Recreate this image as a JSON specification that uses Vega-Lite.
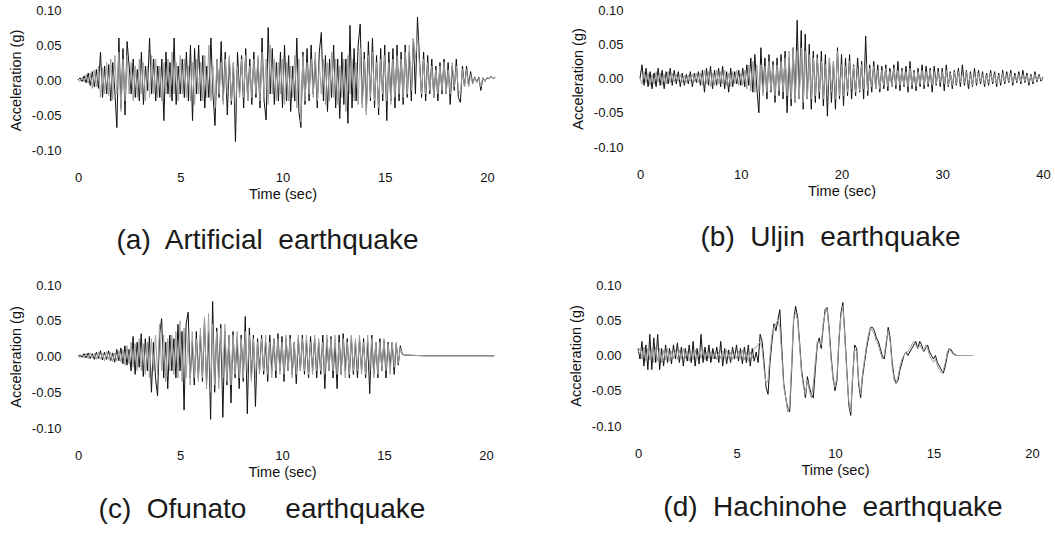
{
"$schema":"https://vega.github.io/schema/vega-lite/v6.json",
"background":"white",
"padding":{"left":8,"top":4,"right":0,"bottom":0},
"config":{"view":{"stroke":null},"font":"Liberation Sans",
"axis":{"domain":false,"ticks":false,"grid":false,"labelFont":"Liberation Sans","titleFont":"Liberation Sans","labelFontSize":13,"titleFontSize":14.5,"titleFontWeight":"normal","labelColor":"#111","titleColor":"#111"},
"axisY":{"labelPadding":17,"titlePadding":8},
"axisX":{"labelPadding":21,"titlePadding":3},
"title":{"font":"Liberation Sans","fontSize":28,"fontWeight":"normal","color":"#1a1a1a","orient":"bottom","offset":26}},
"vconcat":[{"hconcat":[
{"width":409,"height":140,"data":{"name":"a"},
"title":{"text":"(a)\u00a0 Artificial\u00a0 earthquake","dx":-15},
"encoding":{"x":{"field":"t","type":"quantitative","title":"Time (sec)","scale":{"domain":[0,20],"nice":false},"axis":{"values":[0,5,10,15,20],"labelFlush":false}}},
"layer":[
{"mark":{"type":"line","color":"#111","strokeWidth":1},"encoding":{"y":{"field":"k","type":"quantitative","title":"Acceleration (g)","scale":{"domain":[-0.1,0.1],"nice":false},"axis":{"values":[-0.1,-0.05,0,0.05,0.1],"labelExpr":"replace(format(datum.value,'.2f'),'\u2212','-')"}}}},
{"mark":{"type":"line","color":"#a0a0a0","strokeWidth":1},"encoding":{"y":{"field":"g","type":"quantitative","title":"Acceleration (g)","scale":{"domain":[-0.1,0.1],"nice":false},"axis":{"values":[-0.1,-0.05,0,0.05,0.1],"labelExpr":"replace(format(datum.value,'.2f'),'\u2212','-')"}}}}]},
{"width":403,"height":137,"data":{"name":"b"},
"title":{"text":"(b)\u00a0 Uljin\u00a0 earthquake","dx":-11},
"encoding":{"x":{"field":"t","type":"quantitative","title":"Time (sec)","scale":{"domain":[0,40],"nice":false},"axis":{"values":[0,10,20,30,40],"labelFlush":false}}},
"layer":[
{"mark":{"type":"line","color":"#111","strokeWidth":1},"encoding":{"y":{"field":"k","type":"quantitative","title":"Acceleration (g)","scale":{"domain":[-0.1,0.1],"nice":false},"axis":{"values":[-0.1,-0.05,0,0.05,0.1],"labelExpr":"replace(format(datum.value,'.2f'),'\u2212','-')"}}}},
{"mark":{"type":"line","color":"#a0a0a0","strokeWidth":1},"encoding":{"y":{"field":"g","type":"quantitative","title":"Acceleration (g)","scale":{"domain":[-0.1,0.1],"nice":false},"axis":{"values":[-0.1,-0.05,0,0.05,0.1],"labelExpr":"replace(format(datum.value,'.2f'),'\u2212','-')"}}}}]}
],"spacing":72},
{"hconcat":[
{"width":408,"height":143,"data":{"name":"c"},
"title":{"text":"(c)\u00a0 Ofunato\u00a0\u00a0\u00a0\u00a0 earthquake","dx":-20,"offset":17},
"encoding":{"x":{"field":"t","type":"quantitative","title":"Time (sec)","scale":{"domain":[0,20],"nice":false},"axis":{"values":[0,5,10,15,20],"labelFlush":false}}},
"layer":[
{"mark":{"type":"line","color":"#111","strokeWidth":1},"encoding":{"y":{"field":"k","type":"quantitative","title":"Acceleration (g)","scale":{"domain":[-0.1,0.1],"nice":false},"axis":{"values":[-0.1,-0.05,0,0.05,0.1],"labelExpr":"replace(format(datum.value,'.2f'),'\u2212','-')"}}}},
{"mark":{"type":"line","color":"#a0a0a0","strokeWidth":1},"encoding":{"y":{"field":"g","type":"quantitative","title":"Acceleration (g)","scale":{"domain":[-0.1,0.1],"nice":false},"axis":{"values":[-0.1,-0.05,0,0.05,0.1],"labelExpr":"replace(format(datum.value,'.2f'),'\u2212','-')"}}}}]},
{"width":394,"height":141,"data":{"name":"d"},
"title":{"text":"(d)\u00a0 Hachinohe\u00a0 earthquake","dx":-2,"offset":17},
"encoding":{"x":{"field":"t","type":"quantitative","title":"Time (sec)","scale":{"domain":[0,20],"nice":false},"axis":{"values":[0,5,10,15,20],"labelFlush":false}}},
"layer":[
{"mark":{"type":"line","color":"#111","strokeWidth":1},"encoding":{"y":{"field":"k","type":"quantitative","title":"Acceleration (g)","scale":{"domain":[-0.1,0.1],"nice":false},"axis":{"values":[-0.1,-0.05,0,0.05,0.1],"labelExpr":"replace(format(datum.value,'.2f'),'\u2212','-')"}}}},
{"mark":{"type":"line","color":"#a0a0a0","strokeWidth":1},"encoding":{"y":{"field":"g","type":"quantitative","title":"Acceleration (g)","scale":{"domain":[-0.1,0.1],"nice":false},"axis":{"values":[-0.1,-0.05,0,0.05,0.1],"labelExpr":"replace(format(datum.value,'.2f'),'\u2212','-')"}}}}]}
],"spacing":71}
],"spacing":24,
"datasets":{
"a":[
{"t":0,"k":0,"g":0},{"t":0.1,"k":0.003,"g":-0.002},{"t":0.2,"k":-0.002,"g":0.004},{"t":0.3,"k":0.006,"g":-0.003},{"t":0.4,"k":-0.004,"g":0.008},{"t":0.5,"k":0.01,"g":-0.005},{"t":0.6,"k":-0.008,"g":0.01},{"t":0.7,"k":0.012,"g":-0.012},{"t":0.8,"k":-0.01,"g":0.015},{"t":0.9,"k":0.015,"g":-0.01},
{"t":1.0,"k":-0.012,"g":0.02},{"t":1.1,"k":0.04,"g":-0.025},{"t":1.2,"k":-0.025,"g":0.018},{"t":1.3,"k":0.02,"g":-0.02},{"t":1.4,"k":-0.02,"g":0.025},{"t":1.5,"k":0.022,"g":-0.022},{"t":1.6,"k":-0.03,"g":0.03},{"t":1.7,"k":0.025,"g":-0.028},{"t":1.8,"k":-0.015,"g":0.035},{"t":1.9,"k":-0.068,"g":-0.02},
{"t":2.0,"k":0.06,"g":0.04},{"t":2.1,"k":-0.04,"g":-0.045},{"t":2.2,"k":0.045,"g":0.03},{"t":2.3,"k":-0.05,"g":-0.03},{"t":2.4,"k":0.055,"g":0.035},{"t":2.5,"k":0.02,"g":-0.02},{"t":2.6,"k":-0.02,"g":0.025},{"t":2.7,"k":0.03,"g":-0.03},{"t":2.8,"k":-0.025,"g":0.02},{"t":2.9,"k":0.015,"g":-0.025},
{"t":3.0,"k":-0.03,"g":0.03},{"t":3.1,"k":0.04,"g":-0.02},{"t":3.2,"k":-0.035,"g":0.025},{"t":3.3,"k":0.02,"g":-0.03},{"t":3.4,"k":-0.015,"g":0.02},{"t":3.5,"k":0.06,"g":-0.025},{"t":3.6,"k":-0.02,"g":0.035},{"t":3.7,"k":0.03,"g":-0.02},{"t":3.8,"k":-0.03,"g":0.03},{"t":3.9,"k":0.02,"g":-0.025},
{"t":4.0,"k":-0.025,"g":0.02},{"t":4.1,"k":0.03,"g":-0.03},{"t":4.2,"k":-0.058,"g":0.025},{"t":4.3,"k":0.04,"g":-0.02},{"t":4.4,"k":-0.02,"g":0.03},{"t":4.5,"k":0.025,"g":-0.025},{"t":4.6,"k":-0.03,"g":0.04},{"t":4.7,"k":0.06,"g":-0.02},{"t":4.8,"k":-0.035,"g":0.025},{"t":4.9,"k":0.02,"g":-0.03},
{"t":5.0,"k":-0.02,"g":0.035},{"t":5.1,"k":0.03,"g":-0.02},{"t":5.2,"k":-0.025,"g":0.03},{"t":5.3,"k":0.04,"g":-0.025},{"t":5.4,"k":-0.03,"g":0.02},{"t":5.5,"k":0.05,"g":-0.03},{"t":5.6,"k":-0.058,"g":0.025},{"t":5.7,"k":0.045,"g":-0.035},{"t":5.8,"k":-0.02,"g":0.03},{"t":5.9,"k":0.05,"g":-0.02},
{"t":6.0,"k":-0.03,"g":0.025},{"t":6.1,"k":0.035,"g":-0.03},{"t":6.2,"k":-0.04,"g":0.035},{"t":6.3,"k":0.02,"g":-0.025},{"t":6.4,"k":-0.025,"g":0.05},{"t":6.5,"k":0.06,"g":-0.03},{"t":6.6,"k":-0.02,"g":0.02},{"t":6.7,"k":-0.065,"g":-0.04},{"t":6.8,"k":0.03,"g":0.03},{"t":6.9,"k":-0.025,"g":-0.02},
{"t":7.0,"k":0.055,"g":0.025},{"t":7.1,"k":-0.03,"g":-0.035},{"t":7.2,"k":0.04,"g":0.03},{"t":7.3,"k":-0.05,"g":-0.02},{"t":7.4,"k":0.03,"g":0.035},{"t":7.5,"k":-0.035,"g":-0.03},{"t":7.6,"k":0.025,"g":0.025},{"t":7.7,"k":-0.088,"g":-0.045},{"t":7.8,"k":0.04,"g":0.02},{"t":7.9,"k":-0.02,"g":-0.025},
{"t":8.0,"k":0.035,"g":0.03},{"t":8.1,"k":-0.04,"g":-0.025},{"t":8.2,"k":0.045,"g":0.035},{"t":8.3,"k":-0.03,"g":-0.03},{"t":8.4,"k":0.03,"g":0.02},{"t":8.5,"k":-0.035,"g":-0.025},{"t":8.6,"k":0.04,"g":0.03},{"t":8.7,"k":-0.025,"g":-0.02},{"t":8.8,"k":0.03,"g":0.035},{"t":8.9,"k":-0.04,"g":-0.03},
{"t":9.0,"k":0.06,"g":0.04},{"t":9.1,"k":-0.03,"g":-0.025},{"t":9.2,"k":-0.057,"g":0.03},{"t":9.3,"k":0.075,"g":-0.035},{"t":9.4,"k":-0.02,"g":0.05},{"t":9.5,"k":0.045,"g":-0.02},{"t":9.6,"k":-0.035,"g":0.03},{"t":9.7,"k":0.025,"g":-0.03},{"t":9.8,"k":-0.03,"g":0.025},{"t":9.9,"k":0.04,"g":-0.02},
{"t":10.0,"k":-0.04,"g":0.03},{"t":10.1,"k":0.05,"g":-0.035},{"t":10.2,"k":-0.03,"g":0.025},{"t":10.3,"k":0.035,"g":-0.03},{"t":10.4,"k":-0.045,"g":0.02},{"t":10.5,"k":0.02,"g":-0.025},{"t":10.6,"k":-0.03,"g":0.035},{"t":10.7,"k":0.06,"g":-0.04},{"t":10.8,"k":-0.045,"g":0.03},{"t":10.9,"k":-0.068,"g":-0.06},
{"t":11.0,"k":0.04,"g":0.035},{"t":11.1,"k":-0.035,"g":-0.03},{"t":11.2,"k":0.045,"g":0.025},{"t":11.3,"k":-0.03,"g":-0.02},{"t":11.4,"k":0.05,"g":0.03},{"t":11.5,"k":-0.02,"g":-0.025},{"t":11.6,"k":0.03,"g":0.04},{"t":11.7,"k":-0.04,"g":-0.03},{"t":11.8,"k":0.04,"g":0.025},{"t":11.9,"k":0.068,"g":-0.02},
{"t":12.0,"k":-0.03,"g":0.03},{"t":12.1,"k":0.035,"g":-0.035},{"t":12.2,"k":-0.045,"g":0.025},{"t":12.3,"k":0.03,"g":-0.03},{"t":12.4,"k":-0.025,"g":0.04},{"t":12.5,"k":0.05,"g":-0.025},{"t":12.6,"k":-0.04,"g":0.03},{"t":12.7,"k":0.03,"g":-0.035},{"t":12.8,"k":-0.055,"g":0.02},{"t":12.9,"k":0.04,"g":-0.025},
{"t":13.0,"k":-0.035,"g":0.03},{"t":13.1,"k":0.03,"g":-0.045},{"t":13.2,"k":-0.062,"g":0.035},{"t":13.3,"k":0.078,"g":-0.02},{"t":13.4,"k":-0.04,"g":0.03},{"t":13.5,"k":0.045,"g":-0.03},{"t":13.6,"k":-0.03,"g":0.025},{"t":13.7,"k":0.05,"g":-0.035},{"t":13.8,"k":0.08,"g":0.045},{"t":13.9,"k":-0.035,"g":-0.04},
{"t":14.0,"k":0.04,"g":0.03},{"t":14.1,"k":-0.045,"g":-0.05},{"t":14.2,"k":0.055,"g":0.035},{"t":14.3,"k":-0.03,"g":-0.025},{"t":14.4,"k":0.06,"g":0.04},{"t":14.5,"k":-0.04,"g":-0.03},{"t":14.6,"k":0.035,"g":0.025},{"t":14.7,"k":-0.05,"g":-0.04},{"t":14.8,"k":0.045,"g":0.03},{"t":14.9,"k":-0.03,"g":-0.02},
{"t":15.0,"k":0.05,"g":0.035},{"t":15.1,"k":-0.058,"g":-0.03},{"t":15.2,"k":0.04,"g":0.025},{"t":15.3,"k":-0.03,"g":-0.035},{"t":15.4,"k":0.045,"g":0.03},{"t":15.5,"k":-0.04,"g":-0.025},{"t":15.6,"k":0.05,"g":0.035},{"t":15.7,"k":-0.03,"g":-0.02},{"t":15.8,"k":0.04,"g":0.03},{"t":15.9,"k":-0.035,"g":-0.025},
{"t":16.0,"k":0.05,"g":0.04},{"t":16.1,"k":-0.025,"g":-0.02},{"t":16.2,"k":0.04,"g":0.05},{"t":16.3,"k":-0.03,"g":-0.015},{"t":16.4,"k":0.06,"g":0.06},{"t":16.5,"k":-0.02,"g":0.03},{"t":16.6,"k":0.09,"g":0.065},{"t":16.7,"k":0.03,"g":0.02},{"t":16.8,"k":-0.025,"g":-0.02},{"t":16.9,"k":0.04,"g":0.03},
{"t":17.0,"k":-0.03,"g":-0.02},{"t":17.1,"k":0.035,"g":0.025},{"t":17.2,"k":-0.02,"g":-0.015},{"t":17.3,"k":0.03,"g":0.02},{"t":17.4,"k":-0.025,"g":-0.025},{"t":17.5,"k":0.02,"g":0.015},{"t":17.6,"k":-0.03,"g":-0.02},{"t":17.7,"k":0.025,"g":0.02},{"t":17.8,"k":-0.02,"g":-0.015},{"t":17.9,"k":0.03,"g":0.025},
{"t":18.0,"k":-0.02,"g":-0.02},{"t":18.1,"k":0.025,"g":0.015},{"t":18.2,"k":-0.035,"g":-0.02},{"t":18.3,"k":0.02,"g":0.025},{"t":18.4,"k":-0.015,"g":-0.01},{"t":18.5,"k":0.03,"g":0.02},{"t":18.6,"k":-0.025,"g":-0.015},{"t":18.7,"k":-0.032,"g":-0.02},{"t":18.8,"k":0.02,"g":0.015},{"t":18.9,"k":-0.01,"g":-0.01},
{"t":19.0,"k":0.02,"g":0.015},{"t":19.1,"k":-0.008,"g":-0.01},{"t":19.2,"k":0.012,"g":0.008},{"t":19.3,"k":-0.005,"g":-0.006},{"t":19.4,"k":0.004,"g":0.005},{"t":19.5,"k":-0.003,"g":-0.004},{"t":19.6,"k":0.004,"g":0.003},{"t":19.7,"k":-0.015,"g":-0.01},{"t":19.8,"k":0.003,"g":0.004},{"t":19.9,"k":-0.002,"g":-0.002},
{"t":20.0,"k":0.003,"g":0.004},{"t":20.1,"k":0.002,"g":0.001},{"t":20.2,"k":0.005,"g":0.006},{"t":20.3,"k":0.002,"g":0.002},{"t":20.4,"k":0.004,"g":0.003}],
"b":[
{"t":0,"k":0,"g":0},{"t":0.2,"k":0.02,"g":-0.008},{"t":0.4,"k":-0.01,"g":0.01},{"t":0.6,"k":0.015,"g":-0.006},{"t":0.8,"k":-0.012,"g":0.008},{"t":1.0,"k":0.01,"g":-0.01},{"t":1.2,"k":-0.015,"g":0.006},{"t":1.4,"k":0.008,"g":-0.008},{"t":1.6,"k":-0.012,"g":0.01},{"t":1.8,"k":0.015,"g":-0.005},
{"t":2.0,"k":-0.01,"g":0.008},{"t":2.2,"k":0.012,"g":-0.01},{"t":2.4,"k":-0.015,"g":0.006},{"t":2.6,"k":0.01,"g":-0.008},{"t":2.8,"k":-0.008,"g":0.01},{"t":3.0,"k":0.015,"g":-0.006},{"t":3.2,"k":-0.01,"g":0.008},{"t":3.4,"k":0.012,"g":-0.005},{"t":3.6,"k":-0.008,"g":0.006},{"t":3.8,"k":0.01,"g":-0.004},
{"t":4.0,"k":-0.012,"g":0.006},{"t":4.2,"k":0.008,"g":-0.005},{"t":4.4,"k":-0.01,"g":0.004},{"t":4.6,"k":0.006,"g":-0.006},{"t":4.8,"k":-0.008,"g":0.005},{"t":5.0,"k":0.01,"g":-0.004},{"t":5.2,"k":-0.012,"g":0.006},{"t":5.4,"k":0.008,"g":-0.005},{"t":5.6,"k":-0.006,"g":0.008},{"t":5.8,"k":0.01,"g":-0.006},
{"t":6.0,"k":-0.01,"g":0.008},{"t":6.2,"k":0.012,"g":-0.01},{"t":6.4,"k":-0.02,"g":0.012},{"t":6.6,"k":0.015,"g":-0.008},{"t":6.8,"k":-0.01,"g":0.01},{"t":7.0,"k":0.018,"g":-0.012},{"t":7.2,"k":-0.015,"g":0.008},{"t":7.4,"k":0.012,"g":-0.01},{"t":7.6,"k":-0.01,"g":0.012},{"t":7.8,"k":0.015,"g":-0.008},
{"t":8.0,"k":-0.012,"g":0.01},{"t":8.2,"k":0.018,"g":-0.008},{"t":8.4,"k":-0.015,"g":0.012},{"t":8.6,"k":0.01,"g":-0.01},{"t":8.8,"k":-0.02,"g":0.008},{"t":9.0,"k":0.015,"g":-0.012},{"t":9.2,"k":-0.012,"g":0.01},{"t":9.4,"k":0.01,"g":-0.008},{"t":9.6,"k":-0.008,"g":0.012},{"t":9.8,"k":0.012,"g":-0.01},
{"t":10.0,"k":-0.01,"g":0.008},{"t":10.2,"k":0.015,"g":-0.01},{"t":10.4,"k":-0.012,"g":0.012},{"t":10.6,"k":0.02,"g":-0.015},{"t":10.8,"k":-0.01,"g":0.02},{"t":11.0,"k":0.03,"g":-0.018},{"t":11.2,"k":-0.02,"g":0.025},{"t":11.4,"k":0.035,"g":-0.02},{"t":11.6,"k":-0.015,"g":0.02},{"t":11.8,"k":-0.05,"g":-0.02},
{"t":12.0,"k":0.045,"g":0.02},{"t":12.2,"k":-0.02,"g":-0.025},{"t":12.4,"k":0.03,"g":0.018},{"t":12.6,"k":-0.03,"g":-0.02},{"t":12.8,"k":0.035,"g":0.025},{"t":13.0,"k":-0.02,"g":-0.018},{"t":13.2,"k":0.025,"g":0.02},{"t":13.4,"k":-0.035,"g":-0.025},{"t":13.6,"k":0.03,"g":0.02},{"t":13.8,"k":-0.025,"g":-0.018},
{"t":14.0,"k":0.035,"g":0.025},{"t":14.2,"k":-0.03,"g":-0.02},{"t":14.4,"k":0.04,"g":0.03},{"t":14.6,"k":-0.05,"g":-0.025},{"t":14.8,"k":0.03,"g":0.04},{"t":15.0,"k":-0.04,"g":-0.03},{"t":15.2,"k":0.045,"g":0.045},{"t":15.4,"k":-0.035,"g":-0.035},{"t":15.6,"k":0.085,"g":0.04},{"t":15.8,"k":-0.03,"g":-0.03},
{"t":16.0,"k":0.07,"g":0.045},{"t":16.2,"k":-0.045,"g":-0.035},{"t":16.4,"k":0.065,"g":0.04},{"t":16.6,"k":-0.03,"g":-0.03},{"t":16.8,"k":0.05,"g":0.035},{"t":17.0,"k":-0.045,"g":-0.03},{"t":17.2,"k":0.04,"g":0.03},{"t":17.4,"k":-0.035,"g":-0.025},{"t":17.6,"k":0.035,"g":0.03},{"t":17.8,"k":-0.03,"g":-0.02},
{"t":18.0,"k":0.04,"g":0.025},{"t":18.2,"k":-0.04,"g":-0.03},{"t":18.4,"k":0.035,"g":0.02},{"t":18.6,"k":-0.055,"g":-0.025},{"t":18.8,"k":0.03,"g":0.03},{"t":19.0,"k":-0.035,"g":-0.02},{"t":19.2,"k":0.025,"g":0.025},{"t":19.4,"k":-0.045,"g":-0.03},{"t":19.6,"k":0.045,"g":0.04},{"t":19.8,"k":-0.03,"g":-0.025},
{"t":20.0,"k":0.035,"g":0.02},{"t":20.2,"k":-0.04,"g":-0.025},{"t":20.4,"k":0.03,"g":0.018},{"t":20.6,"k":-0.025,"g":-0.02},{"t":20.8,"k":0.035,"g":0.025},{"t":21.0,"k":-0.03,"g":-0.015},{"t":21.2,"k":0.02,"g":0.018},{"t":21.4,"k":-0.025,"g":-0.02},{"t":21.6,"k":0.03,"g":0.015},{"t":21.8,"k":-0.02,"g":-0.018},
{"t":22.0,"k":0.025,"g":0.02},{"t":22.2,"k":-0.03,"g":-0.015},{"t":22.4,"k":0.062,"g":0.025},{"t":22.6,"k":-0.025,"g":-0.018},{"t":22.8,"k":0.02,"g":0.015},{"t":23.0,"k":-0.02,"g":-0.012},{"t":23.2,"k":0.025,"g":0.018},{"t":23.4,"k":-0.015,"g":-0.015},{"t":23.6,"k":0.02,"g":0.012},{"t":23.8,"k":-0.02,"g":-0.015},
{"t":24.0,"k":0.018,"g":0.012},{"t":24.2,"k":-0.015,"g":-0.01},{"t":24.4,"k":0.02,"g":0.015},{"t":24.6,"k":-0.018,"g":-0.012},{"t":24.8,"k":0.015,"g":0.01},{"t":25.0,"k":-0.012,"g":-0.012},{"t":25.2,"k":0.02,"g":0.015},{"t":25.4,"k":-0.015,"g":-0.01},{"t":25.6,"k":0.025,"g":0.012},{"t":25.8,"k":-0.018,"g":-0.01},
{"t":26.0,"k":0.015,"g":0.012},{"t":26.2,"k":-0.012,"g":-0.01},{"t":26.4,"k":0.018,"g":0.01},{"t":26.6,"k":-0.02,"g":-0.012},{"t":26.8,"k":0.025,"g":0.015},{"t":27.0,"k":-0.015,"g":-0.01},{"t":27.2,"k":0.012,"g":0.01},{"t":27.4,"k":-0.018,"g":-0.012},{"t":27.6,"k":0.015,"g":0.01},{"t":27.8,"k":-0.012,"g":-0.008},
{"t":28.0,"k":0.02,"g":0.012},{"t":28.2,"k":-0.015,"g":-0.01},{"t":28.4,"k":0.018,"g":0.01},{"t":28.6,"k":-0.012,"g":-0.008},{"t":28.8,"k":0.015,"g":0.012},{"t":29.0,"k":-0.02,"g":-0.01},{"t":29.2,"k":0.018,"g":0.01},{"t":29.4,"k":-0.01,"g":-0.008},{"t":29.6,"k":0.015,"g":0.01},{"t":29.8,"k":-0.012,"g":-0.006},
{"t":30.0,"k":0.015,"g":0.01},{"t":30.2,"k":-0.018,"g":-0.008},{"t":30.4,"k":0.02,"g":0.012},{"t":30.6,"k":-0.012,"g":-0.01},{"t":30.8,"k":0.01,"g":0.008},{"t":31.0,"k":-0.015,"g":-0.01},{"t":31.2,"k":0.012,"g":0.01},{"t":31.4,"k":-0.01,"g":-0.008},{"t":31.6,"k":0.015,"g":0.01},{"t":31.8,"k":-0.012,"g":-0.006},
{"t":32.0,"k":0.02,"g":0.008},{"t":32.2,"k":-0.01,"g":-0.006},{"t":32.4,"k":0.012,"g":0.01},{"t":32.6,"k":-0.015,"g":-0.008},{"t":32.8,"k":0.01,"g":0.006},{"t":33.0,"k":-0.012,"g":-0.01},{"t":33.2,"k":0.015,"g":0.008},{"t":33.4,"k":-0.01,"g":-0.006},{"t":33.6,"k":0.012,"g":0.008},{"t":33.8,"k":-0.008,"g":-0.005},
{"t":34.0,"k":0.01,"g":0.006},{"t":34.2,"k":-0.012,"g":-0.008},{"t":34.4,"k":0.008,"g":0.005},{"t":34.6,"k":-0.01,"g":-0.006},{"t":34.8,"k":0.012,"g":0.008},{"t":35.0,"k":-0.008,"g":-0.005},{"t":35.2,"k":0.01,"g":0.006},{"t":35.4,"k":-0.012,"g":-0.008},{"t":35.6,"k":0.008,"g":0.005},{"t":35.8,"k":-0.01,"g":-0.006},
{"t":36.0,"k":0.012,"g":0.008},{"t":36.2,"k":-0.008,"g":-0.005},{"t":36.4,"k":0.01,"g":0.006},{"t":36.6,"k":-0.006,"g":-0.004},{"t":36.8,"k":0.012,"g":0.008},{"t":37.0,"k":-0.01,"g":-0.006},{"t":37.2,"k":0.008,"g":0.005},{"t":37.4,"k":-0.006,"g":-0.004},{"t":37.6,"k":0.01,"g":0.006},{"t":37.8,"k":-0.008,"g":-0.005},
{"t":38.0,"k":0.012,"g":0.006},{"t":38.2,"k":-0.006,"g":-0.004},{"t":38.4,"k":0.008,"g":0.005},{"t":38.6,"k":-0.01,"g":-0.006},{"t":38.8,"k":0.006,"g":0.004},{"t":39.0,"k":-0.008,"g":-0.005},{"t":39.2,"k":0.01,"g":0.006},{"t":39.4,"k":-0.005,"g":-0.003},{"t":39.6,"k":0.006,"g":0.004},{"t":39.8,"k":-0.004,"g":-0.002},
{"t":40.0,"k":0.002,"g":0}],
"c":[
{"t":0,"k":0,"g":0},{"t":0.1,"k":0.002,"g":-0.001},{"t":0.2,"k":-0.001,"g":0.003},{"t":0.3,"k":0.004,"g":-0.002},{"t":0.4,"k":-0.002,"g":0.004},{"t":0.5,"k":0.005,"g":-0.003},{"t":0.6,"k":-0.003,"g":0.005},{"t":0.7,"k":0.004,"g":-0.002},{"t":0.8,"k":-0.004,"g":0.004},{"t":0.9,"k":0.006,"g":-0.004},
{"t":1.0,"k":-0.003,"g":0.006},{"t":1.1,"k":0.008,"g":-0.004},{"t":1.2,"k":-0.005,"g":0.005},{"t":1.3,"k":0.006,"g":-0.006},{"t":1.4,"k":-0.004,"g":0.007},{"t":1.5,"k":0.008,"g":-0.004},{"t":1.6,"k":-0.006,"g":0.006},{"t":1.7,"k":0.005,"g":-0.007},{"t":1.8,"k":-0.008,"g":0.005},{"t":1.9,"k":0.01,"g":-0.006},
{"t":2.0,"k":-0.006,"g":0.008},{"t":2.1,"k":0.012,"g":-0.008},{"t":2.2,"k":-0.01,"g":0.01},{"t":2.3,"k":0.015,"g":-0.012},{"t":2.4,"k":-0.012,"g":0.015},{"t":2.5,"k":0.01,"g":-0.01},{"t":2.6,"k":-0.02,"g":0.02},{"t":2.7,"k":0.028,"g":-0.015},{"t":2.8,"k":-0.025,"g":0.018},{"t":2.9,"k":0.02,"g":-0.02},
{"t":3.0,"k":-0.015,"g":0.025},{"t":3.1,"k":0.032,"g":-0.02},{"t":3.2,"k":-0.028,"g":0.018},{"t":3.3,"k":0.025,"g":-0.025},{"t":3.4,"k":-0.02,"g":0.02},{"t":3.5,"k":0.028,"g":-0.03},{"t":3.6,"k":-0.05,"g":0.025},{"t":3.7,"k":0.02,"g":-0.02},{"t":3.8,"k":-0.03,"g":0.03},{"t":3.9,"k":-0.055,"g":-0.025},
{"t":4.0,"k":0.03,"g":0.045},{"t":4.1,"k":0.053,"g":-0.02},{"t":4.2,"k":-0.03,"g":0.03},{"t":4.3,"k":0.02,"g":-0.035},{"t":4.4,"k":-0.045,"g":0.025},{"t":4.5,"k":0.03,"g":-0.02},{"t":4.6,"k":-0.02,"g":0.03},{"t":4.7,"k":0.025,"g":-0.025},{"t":4.8,"k":-0.03,"g":0.035},{"t":4.9,"k":0.045,"g":-0.03},
{"t":5.0,"k":-0.02,"g":0.05},{"t":5.1,"k":0.035,"g":-0.035},{"t":5.2,"k":-0.075,"g":0.04},{"t":5.3,"k":0.045,"g":-0.03},{"t":5.4,"k":0.062,"g":0.03},{"t":5.5,"k":-0.03,"g":-0.04},{"t":5.6,"k":0.02,"g":0.035},{"t":5.7,"k":-0.04,"g":-0.03},{"t":5.8,"k":0.035,"g":0.025},{"t":5.9,"k":-0.03,"g":-0.035},
{"t":6.0,"k":0.03,"g":0.04},{"t":6.1,"k":-0.035,"g":-0.03},{"t":6.2,"k":0.05,"g":0.055},{"t":6.3,"k":-0.04,"g":-0.045},{"t":6.4,"k":0.035,"g":0.06},{"t":6.5,"k":-0.088,"g":-0.05},{"t":6.6,"k":0.077,"g":0.045},{"t":6.7,"k":-0.05,"g":-0.04},{"t":6.8,"k":0.04,"g":0.035},{"t":6.9,"k":-0.03,"g":-0.045},
{"t":7.0,"k":0.045,"g":0.04},{"t":7.1,"k":-0.085,"g":-0.03},{"t":7.2,"k":0.035,"g":0.045},{"t":7.3,"k":-0.04,"g":-0.035},{"t":7.4,"k":0.03,"g":0.03},{"t":7.5,"k":-0.065,"g":-0.04},{"t":7.6,"k":0.035,"g":0.03},{"t":7.7,"k":-0.03,"g":-0.025},{"t":7.8,"k":0.025,"g":0.035},{"t":7.9,"k":-0.045,"g":-0.03},
{"t":8.0,"k":0.03,"g":0.025},{"t":8.1,"k":-0.035,"g":-0.03},{"t":8.2,"k":0.056,"g":0.035},{"t":8.3,"k":-0.08,"g":-0.025},{"t":8.4,"k":0.04,"g":0.03},{"t":8.5,"k":-0.03,"g":-0.035},{"t":8.6,"k":0.03,"g":0.025},{"t":8.7,"k":-0.07,"g":-0.03},{"t":8.8,"k":0.025,"g":0.02},{"t":8.9,"k":-0.02,"g":-0.025},
{"t":9.0,"k":0.03,"g":0.025},{"t":9.1,"k":-0.025,"g":-0.02},{"t":9.2,"k":0.02,"g":0.03},{"t":9.3,"k":-0.035,"g":-0.025},{"t":9.4,"k":0.03,"g":0.02},{"t":9.5,"k":-0.02,"g":-0.03},{"t":9.6,"k":0.025,"g":0.025},{"t":9.7,"k":-0.03,"g":-0.02},{"t":9.8,"k":0.032,"g":0.025},{"t":9.9,"k":-0.02,"g":-0.025},
{"t":10.0,"k":0.028,"g":0.02},{"t":10.1,"k":-0.035,"g":-0.025},{"t":10.2,"k":0.025,"g":0.03},{"t":10.3,"k":-0.02,"g":-0.02},{"t":10.4,"k":0.03,"g":0.025},{"t":10.5,"k":-0.025,"g":-0.03},{"t":10.6,"k":0.02,"g":0.02},{"t":10.7,"k":-0.038,"g":-0.025},{"t":10.8,"k":0.025,"g":0.03},{"t":10.9,"k":-0.02,"g":-0.02},
{"t":11.0,"k":0.03,"g":0.025},{"t":11.1,"k":-0.025,"g":-0.02},{"t":11.2,"k":0.022,"g":0.03},{"t":11.3,"k":-0.03,"g":-0.025},{"t":11.4,"k":0.028,"g":0.02},{"t":11.5,"k":-0.02,"g":-0.025},{"t":11.6,"k":0.025,"g":0.03},{"t":11.7,"k":-0.03,"g":-0.02},{"t":11.8,"k":0.02,"g":0.025},{"t":11.9,"k":-0.025,"g":-0.02},
{"t":12.0,"k":0.03,"g":0.02},{"t":12.1,"k":-0.045,"g":-0.025},{"t":12.2,"k":0.025,"g":0.03},{"t":12.3,"k":-0.02,"g":-0.02},{"t":12.4,"k":0.028,"g":0.025},{"t":12.5,"k":-0.03,"g":-0.02},{"t":12.6,"k":0.02,"g":0.03},{"t":12.7,"k":-0.045,"g":-0.025},{"t":12.8,"k":0.03,"g":0.02},{"t":12.9,"k":-0.025,"g":-0.025},
{"t":13.0,"k":0.032,"g":0.025},{"t":13.1,"k":-0.02,"g":-0.03},{"t":13.2,"k":0.025,"g":0.02},{"t":13.3,"k":-0.03,"g":-0.025},{"t":13.4,"k":0.028,"g":0.03},{"t":13.5,"k":-0.025,"g":-0.02},{"t":13.6,"k":0.02,"g":0.025},{"t":13.7,"k":-0.03,"g":-0.02},{"t":13.8,"k":0.025,"g":0.03},{"t":13.9,"k":-0.02,"g":-0.025},
{"t":14.0,"k":0.025,"g":0.02},{"t":14.1,"k":-0.03,"g":-0.025},{"t":14.2,"k":0.02,"g":0.03},{"t":14.3,"k":-0.052,"g":-0.02},{"t":14.4,"k":0.03,"g":0.025},{"t":14.5,"k":-0.025,"g":-0.03},{"t":14.6,"k":0.02,"g":0.02},{"t":14.7,"k":-0.03,"g":-0.025},{"t":14.8,"k":0.025,"g":0.02},{"t":14.9,"k":-0.02,"g":-0.02},
{"t":15.0,"k":0.022,"g":0.025},{"t":15.1,"k":-0.03,"g":-0.02},{"t":15.2,"k":0.02,"g":0.018},{"t":15.3,"k":-0.015,"g":-0.025},{"t":15.4,"k":0.02,"g":0.02},{"t":15.5,"k":-0.025,"g":-0.015},{"t":15.6,"k":0.018,"g":0.02},{"t":15.7,"k":-0.012,"g":-0.01},{"t":15.8,"k":0.015,"g":0.012},{"t":15.9,"k":0.003,"g":0.004},
{"t":16.0,"k":0.002,"g":0.002},{"t":17.0,"k":0.001,"g":0.001},{"t":18.0,"k":0.001,"g":0.001},{"t":19.0,"k":0.001,"g":0.001},{"t":20.0,"k":0.001,"g":0.001},{"t":20.4,"k":0.001,"g":0.001}],
"d":[
{"t":0,"k":0.01,"g":0.005},{"t":0.1,"k":-0.005,"g":0.01},{"t":0.2,"k":0.02,"g":-0.005},{"t":0.3,"k":-0.015,"g":0.012},{"t":0.4,"k":0.015,"g":-0.008},{"t":0.5,"k":-0.02,"g":0.01},{"t":0.6,"k":0.03,"g":-0.006},{"t":0.7,"k":-0.02,"g":0.01},{"t":0.8,"k":0.025,"g":-0.01},{"t":0.9,"k":-0.01,"g":0.012},
{"t":1.0,"k":0.03,"g":-0.008},{"t":1.1,"k":-0.02,"g":0.01},{"t":1.2,"k":0.01,"g":-0.01},{"t":1.3,"k":-0.015,"g":0.008},{"t":1.4,"k":0.015,"g":-0.006},{"t":1.5,"k":-0.01,"g":0.01},{"t":1.6,"k":0.01,"g":-0.008},{"t":1.7,"k":-0.012,"g":0.006},{"t":1.8,"k":0.015,"g":-0.005},{"t":1.9,"k":-0.005,"g":0.008},
{"t":2.0,"k":0.018,"g":-0.006},{"t":2.1,"k":-0.01,"g":0.008},{"t":2.2,"k":0.012,"g":-0.005},{"t":2.3,"k":-0.015,"g":0.01},{"t":2.4,"k":0.01,"g":-0.004},{"t":2.5,"k":-0.008,"g":0.006},{"t":2.6,"k":0.015,"g":-0.008},{"t":2.7,"k":-0.01,"g":0.005},{"t":2.8,"k":0.02,"g":-0.006},{"t":2.9,"k":-0.015,"g":0.008},
{"t":3.0,"k":0.01,"g":-0.005},{"t":3.1,"k":-0.012,"g":0.006},{"t":3.2,"k":0.03,"g":-0.004},{"t":3.3,"k":-0.01,"g":0.008},{"t":3.4,"k":0.012,"g":-0.006},{"t":3.5,"k":-0.008,"g":0.005},{"t":3.6,"k":0.015,"g":-0.004},{"t":3.7,"k":-0.01,"g":0.006},{"t":3.8,"k":0.01,"g":-0.005},{"t":3.9,"k":-0.005,"g":0.004},
{"t":4.0,"k":0.012,"g":-0.006},{"t":4.1,"k":-0.01,"g":0.005},{"t":4.2,"k":0.02,"g":-0.004},{"t":4.3,"k":-0.015,"g":0.006},{"t":4.4,"k":0.01,"g":-0.005},{"t":4.5,"k":-0.012,"g":0.008},{"t":4.6,"k":0.008,"g":-0.004},{"t":4.7,"k":-0.01,"g":0.005},{"t":4.8,"k":0.012,"g":-0.006},{"t":4.9,"k":-0.005,"g":0.004},
{"t":5.0,"k":0.015,"g":-0.004},{"t":5.1,"k":-0.008,"g":0.006},{"t":5.2,"k":0.01,"g":-0.005},{"t":5.3,"k":-0.012,"g":0.008},{"t":5.4,"k":0.012,"g":-0.006},{"t":5.5,"k":-0.01,"g":0.004},{"t":5.6,"k":0.015,"g":-0.008},{"t":5.7,"k":-0.015,"g":0.005},{"t":5.8,"k":0.01,"g":-0.004},{"t":5.9,"k":-0.008,"g":0.01},
{"t":6.0,"k":0.005,"g":0.012},{"t":6.1,"k":-0.01,"g":0.015},{"t":6.2,"k":0.03,"g":0.02},{"t":6.3,"k":0.02,"g":0.01},{"t":6.4,"k":-0.01,"g":-0.02},{"t":6.5,"k":-0.045,"g":-0.04},{"t":6.6,"k":-0.055,"g":-0.035},{"t":6.7,"k":-0.01,"g":0},{"t":6.8,"k":0.02,"g":0.03},{"t":6.9,"k":0.045,"g":0.04},
{"t":7.0,"k":0.035,"g":0.045},{"t":7.1,"k":0.05,"g":0.05},{"t":7.2,"k":0.065,"g":0.04},{"t":7.3,"k":0.01,"g":0},{"t":7.4,"k":-0.04,"g":-0.045},{"t":7.5,"k":-0.06,"g":-0.06},{"t":7.6,"k":-0.075,"g":-0.08},{"t":7.7,"k":-0.08,"g":-0.07},{"t":7.8,"k":-0.02,"g":-0.01},{"t":7.9,"k":0.05,"g":0.055},
{"t":8.0,"k":0.07,"g":0.06},{"t":8.1,"k":0.055,"g":0.05},{"t":8.2,"k":0.02,"g":0.015},{"t":8.3,"k":-0.02,"g":-0.025},{"t":8.4,"k":-0.04,"g":-0.045},{"t":8.5,"k":-0.06,"g":-0.055},{"t":8.6,"k":-0.03,"g":-0.035},{"t":8.7,"k":-0.045,"g":-0.05},{"t":8.8,"k":-0.055,"g":-0.06},{"t":8.9,"k":-0.06,"g":-0.04},
{"t":9.0,"k":-0.02,"g":-0.01},{"t":9.1,"k":0.015,"g":0.02},{"t":9.2,"k":0.025,"g":0.02},{"t":9.3,"k":0.01,"g":0.015},{"t":9.4,"k":0.04,"g":0.045},{"t":9.5,"k":0.065,"g":0.06},{"t":9.6,"k":0.068,"g":0.065},{"t":9.7,"k":0.04,"g":0.035},{"t":9.8,"k":0,"g":-0.005},{"t":9.9,"k":-0.03,"g":-0.035},
{"t":10.0,"k":-0.05,"g":-0.045},{"t":10.1,"k":-0.035,"g":-0.03},{"t":10.2,"k":0.02,"g":0.025},{"t":10.3,"k":0.06,"g":0.055},{"t":10.4,"k":0.075,"g":0.07},{"t":10.5,"k":0.03,"g":0.025},{"t":10.6,"k":-0.02,"g":-0.025},{"t":10.7,"k":-0.07,"g":-0.065},{"t":10.8,"k":-0.085,"g":-0.08},{"t":10.9,"k":-0.03,"g":-0.025},
{"t":11.0,"k":0.015,"g":0.01},{"t":11.1,"k":0.01,"g":0.005},{"t":11.2,"k":-0.04,"g":-0.035},{"t":11.3,"k":-0.06,"g":-0.055},{"t":11.4,"k":-0.03,"g":-0.025},{"t":11.5,"k":-0.01,"g":-0.005},{"t":11.6,"k":0.01,"g":0.015},{"t":11.7,"k":0.025,"g":0.03},{"t":11.8,"k":0.04,"g":0.04},{"t":11.9,"k":0.04,"g":0.035},
{"t":12.0,"k":0.035,"g":0.03},{"t":12.1,"k":0.025,"g":0.02},{"t":12.2,"k":0.02,"g":0.015},{"t":12.3,"k":0.01,"g":0.005},{"t":12.4,"k":0,"g":-0.005},{"t":12.5,"k":-0.005,"g":0},{"t":12.6,"k":0.015,"g":0.02},{"t":12.7,"k":0.04,"g":0.035},{"t":12.8,"k":0.025,"g":0.02},{"t":12.9,"k":-0.01,"g":-0.015},
{"t":13.0,"k":-0.03,"g":-0.035},{"t":13.1,"k":-0.04,"g":-0.04},{"t":13.2,"k":-0.035,"g":-0.03},{"t":13.3,"k":-0.02,"g":-0.015},{"t":13.4,"k":-0.01,"g":-0.005},{"t":13.5,"k":0,"g":0},{"t":13.6,"k":0.005,"g":0.005},{"t":13.7,"k":0,"g":0.005},{"t":13.8,"k":0.005,"g":0.01},{"t":13.9,"k":0.01,"g":0.015},
{"t":14.0,"k":0.015,"g":0.02},{"t":14.1,"k":0.02,"g":0.015},{"t":14.2,"k":0.01,"g":0.01},{"t":14.3,"k":0.02,"g":0.015},{"t":14.4,"k":0.015,"g":0.01},{"t":14.5,"k":0.005,"g":0.005},{"t":14.6,"k":0.01,"g":0.015},{"t":14.7,"k":0.015,"g":0.01},{"t":14.8,"k":0.005,"g":0},{"t":14.9,"k":0,"g":-0.005},
{"t":15.0,"k":-0.005,"g":-0.01},{"t":15.1,"k":0,"g":-0.005},{"t":15.2,"k":-0.01,"g":-0.015},{"t":15.3,"k":-0.015,"g":-0.02},{"t":15.4,"k":-0.02,"g":-0.025},{"t":15.5,"k":-0.025,"g":-0.02},{"t":15.6,"k":-0.015,"g":-0.01},{"t":15.7,"k":0,"g":0.005},{"t":15.8,"k":0.01,"g":0.01},{"t":15.9,"k":0.008,"g":0.005},
{"t":16.0,"k":0.003,"g":0.002},{"t":16.1,"k":0.001,"g":0},{"t":16.2,"k":0,"g":0},{"t":16.5,"k":0,"g":0},{"t":17.0,"k":0,"g":0}]
}
}
